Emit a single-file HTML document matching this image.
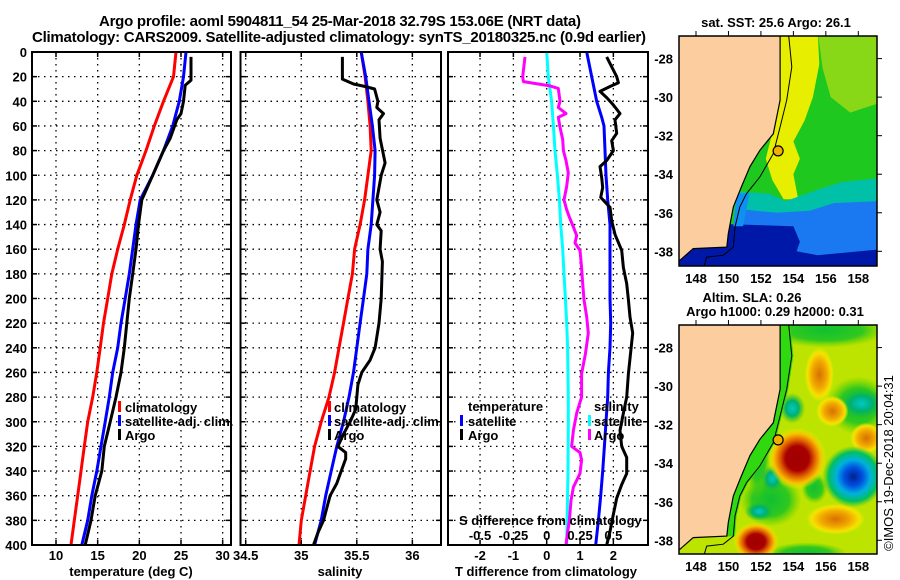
<!DOCTYPE html>
<html><head><meta charset="utf-8"><title>Argo profile</title>
<style>
html,body{margin:0;padding:0;background:#fff;}
svg{display:block;font-family:"Liberation Sans",Arial,sans-serif;font-weight:bold;}
</style></head>
<body>
<svg id="fig" width="900" height="580" viewBox="0 0 900 580" xmlns="http://www.w3.org/2000/svg">
<defs>
<clipPath id="clipTop"><rect x="679" y="36" width="198" height="230"/></clipPath>
<clipPath id="clipBot"><rect x="679" y="325" width="198" height="229"/></clipPath>
<radialGradient id="gRed"><stop offset="0" stop-color="#a00000"/><stop offset="0.4" stop-color="#a80000"/><stop offset="0.6" stop-color="#e06000"/><stop offset="0.8" stop-color="#f8c000"/><stop offset="1" stop-color="#f0f000" stop-opacity="0"/></radialGradient>
<radialGradient id="gOrange"><stop offset="0" stop-color="#d87000"/><stop offset="0.5" stop-color="#f0a800"/><stop offset="0.8" stop-color="#f8e000"/><stop offset="1" stop-color="#f0f000" stop-opacity="0"/></radialGradient>
<radialGradient id="gBlue"><stop offset="0" stop-color="#002090"/><stop offset="0.3" stop-color="#0050e0"/><stop offset="0.55" stop-color="#00b0e0"/><stop offset="0.8" stop-color="#00c060"/><stop offset="1" stop-color="#30c030" stop-opacity="0"/></radialGradient>
<radialGradient id="gTeal"><stop offset="0" stop-color="#00c8c8"/><stop offset="0.5" stop-color="#00b070"/><stop offset="1" stop-color="#20c020" stop-opacity="0"/></radialGradient>
<radialGradient id="gGreen"><stop offset="0" stop-color="#10c030"/><stop offset="0.6" stop-color="#30c820"/><stop offset="1" stop-color="#60d000" stop-opacity="0"/></radialGradient>
</defs>
<g id="titles">
<text x="340" y="26" text-anchor="middle" font-size="15" textLength="482">Argo profile: aoml 5904811_54 25-Mar-2018 32.79S 153.06E (NRT data)</text>
<text x="339" y="42" text-anchor="middle" font-size="15" textLength="614">Climatology: CARS2009. Satellite-adjusted climatology: synTS_20180325.nc (0.9d earlier)</text>
<text x="776" y="27" text-anchor="middle" font-size="13">sat. SST: 25.6 Argo: 26.1</text>
<text x="752" y="302" text-anchor="middle" font-size="13">Altim. SLA: 0.26</text>
<text x="775" y="316" text-anchor="middle" font-size="13">Argo h1000: 0.29 h2000: 0.31</text>
<text transform="translate(893,463) rotate(-90)" text-anchor="middle" font-size="13" font-weight="normal">©IMOS 19-Dec-2018 20:04:31</text>
</g>
<g id="panels"></g>
<g id="maps"></g>
</svg>
<script>
// ---------- profile data ----------
const climDepth = [0,20,40,60,80,100,120,140,160,180,200,220,240,260,280,300,320,340,360,380,400];
const climT = [24.4,24.1,22.9,21.8,20.8,19.7,18.9,18.2,17.4,16.7,16.2,15.7,15.3,14.9,14.4,13.8,13.4,13.0,12.6,12.2,11.8];
const satT = [25.6,25.3,24.8,24.0,22.9,21.6,20.1,19.6,19.2,18.8,18.3,17.8,17.4,16.8,16.4,15.9,15.4,14.9,14.3,13.8,13.1];
const argoTDepth = [4,23,27,40,50,55,70,80,100,120,140,160,180,200,220,240,260,280,300,320,340,360,380,400];
const argoT = [26.2,26.2,25.5,25.3,25.0,24.5,23.7,22.9,21.6,20.3,19.9,19.6,19.2,18.8,18.5,18.2,17.8,17.2,16.5,15.8,15.5,14.7,14.2,13.5];
const climS = [35.54,35.575,35.60,35.62,35.63,35.60,35.57,35.53,35.48,35.46,35.42,35.38,35.34,35.30,35.25,35.18,35.12,35.08,35.04,35.00,34.98];
const satS = [35.54,35.58,35.61,35.64,35.665,35.66,35.645,35.63,35.60,35.59,35.56,35.53,35.50,35.47,35.43,35.38,35.32,35.27,35.22,35.18,35.12];
const argoSDepth = [4,22,26,28,30,40,45,50,55,70,90,100,120,130,140,145,160,170,200,220,240,250,260,270,280,290,300,310,320,325,330,340,350,360,370,380,390,400];
const argoS = [35.37,35.37,35.47,35.575,35.66,35.69,35.68,35.74,35.70,35.71,35.755,35.72,35.68,35.71,35.68,35.72,35.71,35.73,35.72,35.70,35.665,35.62,35.545,35.51,35.50,35.49,35.44,35.38,35.33,35.40,35.40,35.36,35.32,35.26,35.23,35.20,35.15,35.11];
const satTdiffDepth = [0,20,40,53,60,80,100,120,140,160,180,200,220,240,260,280,300,320,340,360,380,400];
const satTdiff = [1.2,1.35,1.5,1.65,1.72,1.75,1.78,1.83,1.9,1.9,1.9,1.9,1.92,1.9,1.85,1.83,1.78,1.73,1.68,1.62,1.55,1.47];
const satSdiffDepth = [0,20,40,60,80,100,120,140,160,180,200,220,240,280,300,340,400];
const satSdiff = [0,0.012,0.037,0.05,0.062,0.08,0.095,0.105,0.12,0.13,0.14,0.15,0.157,0.162,0.162,0.16,0.15];
const argoTdiffDepth = [4,12,20,25,28,32,37,43,50,55,66,72,80,88,93,102,110,118,126,137,148,161,175,188,201,215,228,261,280,293,307,320,329,342,351,362,375,389,400];
const argoTdiff = [1.8,1.95,2.1,2.15,1.9,1.6,1.8,2.0,2.2,2.05,2.1,1.95,2.0,1.8,1.6,1.65,1.68,1.62,1.9,1.95,2.05,2.25,2.3,2.4,2.45,2.5,2.58,2.45,2.4,2.3,2.2,2.25,2.4,2.4,2.25,2.1,2.0,1.9,1.8];
const argoSdiffDepth = [4,20,24,27.5,29.5,40,45,50,53,61,71,80,88,98,109,120,128,134,142,149,155,161,175,188,201,215,228,245,261,280,293,307,320,325,331,342,353,364,380,391,400];
const argoSdiff = [-0.163,-0.18,-0.175,0.025,0.087,0.1,0.087,0.145,0.087,0.1,0.12,0.125,0.145,0.162,0.15,0.13,0.15,0.17,0.2,0.225,0.212,0.25,0.262,0.27,0.28,0.3,0.312,0.29,0.262,0.262,0.225,0.2,0.187,0.25,0.262,0.25,0.2,0.182,0.17,0.155,0.145];
const depthTicks = [0,20,40,60,80,100,120,140,160,180,200,220,240,260,280,300,320,340,360,380,400];
const tempTicks = [10,15,20,25,30];
const salTicks = [34.5,35,35.5,36];
const salTickLabels = ["34.5","35","35.5","36"];
const tdiffTicks = [-2,-1,0,1,2];
const sdiffTicks = [-0.5,-0.25,0,0.25,0.5];
const sdiffTickLabels = ["-0.5","-0.25","0","0.25","0.5"];
const mapLonTicks = [148,150,152,154,156,158];
const mapLatTicks = [-28,-30,-32,-34,-36,-38];

const NS = "http://www.w3.org/2000/svg";
function mk(tag, attrs, parent){const e=document.createElementNS(NS,tag);for(const k in attrs)e.setAttribute(k,attrs[k]);parent.appendChild(e);return e;}

const PT=52, PB=545;
const yD = d => PT + d*(PB-PT)/400;
const p1x = t => 56 + (t-10)*8.333;
const p2x = s => 245.7 + (s-34.5)*111.1;
const p3xT = t => 546.7 + t*33.33;
const p3xS = s => 546.7 + s*133.33;
const panels = document.getElementById('panels');

function line(parent, xs, ds, fx, color, name){
  const pts = xs.map((v,i)=>fx(v).toFixed(1)+','+yD(ds[i]).toFixed(1)).join(' ');
  const p = mk('polyline',{points:pts,fill:'none',stroke:color,'stroke-width':3,'stroke-linejoin':'round'},parent);
  
  
}

function panel(x0,x1,vticks,fx,name){
  const g = mk('g',{},panels);
  
  
  depthTicks.forEach(d=>{
    if(d===0||d===400)return;
    mk('line',{x1:x0,x2:x1,y1:yD(d),y2:yD(d),stroke:'#000','stroke-width':1.3,'stroke-dasharray':'1.5,4.5'},g);
    mk('line',{x1:x0,x2:x0+5,y1:yD(d),y2:yD(d),stroke:'#000','stroke-width':1.5},g);
    mk('line',{x1:x1-5,x2:x1,y1:yD(d),y2:yD(d),stroke:'#000','stroke-width':1.5},g);
  });
  vticks.forEach(v=>{
    const x=fx(v);
    mk('line',{x1:x,x2:x,y1:PT,y2:PB,stroke:'#000','stroke-width':1.3,'stroke-dasharray':'1.5,4.5'},g);
    mk('line',{x1:x,x2:x,y1:PB-5,y2:PB,stroke:'#000','stroke-width':1.5},g);
    mk('line',{x1:x,x2:x,y1:PT,y2:PT+5,stroke:'#000','stroke-width':1.5},g);
  });
  return g;
}
function frame(x0,x1,name){
  const r = mk('rect',{x:x0,y:PT,width:x1-x0,height:PB-PT,fill:'none',stroke:'#000','stroke-width':2},panels);
  
  
}
function txt(parent,x,y,s,anchor,size,name){
  const t = mk('text',{x:x,y:y,'text-anchor':anchor||'start','font-size':size||13},parent);
  t.textContent=s;
  
  
  return t;
}
function legendBar(parent,x,y,color,name){
  const r = mk('rect',{x:x,y:y-10,width:3,height:11,fill:color},parent);
  
  
}

depthTicks.forEach(d=>{ txt(panels,27,yD(d)+5,String(d),'end',13,'depth-tick-label'); });

// Panel 1: temperature
const g1 = panel(32,231,tempTicks,p1x,'temperature-panel');
line(g1, climT, climDepth, p1x, '#ff0000', 'climatology-temperature-line');
line(g1, satT, climDepth, p1x, '#0000ff', 'satellite-temperature-line');
line(g1, argoT, argoTDepth, p1x, '#000000', 'argo-temperature-line');
frame(32,231,'temperature-panel-frame');
tempTicks.forEach(v=>txt(panels,p1x(v),560,String(v),'middle',13,'temperature-tick-label'));
txt(panels,131,576,'temperature (deg C)','middle',13,'temperature-axis-title');
legendBar(g1,118,411,'#ff0000','legend-climatology-marker'); txt(g1,125,412,'climatology','start',13,'legend-climatology');
legendBar(g1,118,425,'#0000ff','legend-satellite-marker'); txt(g1,125,426,'satellite-adj. clim.','start',13,'legend-satellite-adj');
legendBar(g1,118,439,'#000000','legend-argo-marker'); txt(g1,125,440,'Argo','start',13,'legend-argo');

// Panel 2: salinity
const g2 = panel(240.5,441,salTicks,p2x,'salinity-panel');
line(g2, climS, climDepth, p2x, '#ff0000', 'climatology-salinity-line');
line(g2, satS, climDepth, p2x, '#0000ff', 'satellite-salinity-line');
line(g2, argoS, argoSDepth, p2x, '#000000', 'argo-salinity-line');
frame(240.5,441,'salinity-panel-frame');
salTicks.forEach((v,i)=>txt(panels,p2x(v),560,salTickLabels[i],'middle',13,'salinity-tick-label'));
txt(panels,340,576,'salinity','middle',13,'salinity-axis-title');
legendBar(g2,328,411,'#ff0000','legend2-climatology-marker'); txt(g2,334,412,'climatology','start',13,'legend2-climatology');
legendBar(g2,328,425,'#0000ff','legend2-satellite-marker'); txt(g2,334,426,'satellite-adj. clim.','start',13,'legend2-satellite-adj');
legendBar(g2,328,439,'#000000','legend2-argo-marker'); txt(g2,334,440,'Argo','start',13,'legend2-argo');

// Panel 3: differences
const g3 = panel(448,648,tdiffTicks,p3xT,'difference-panel');
line(g3, satSdiff, satSdiffDepth, p3xS, '#00ffff', 'satellite-salinity-diff-line');
line(g3, argoSdiff, argoSdiffDepth, p3xS, '#ff00ff', 'argo-salinity-diff-line');
line(g3, satTdiff, satTdiffDepth, p3xT, '#0000ff', 'satellite-temperature-diff-line');
line(g3, argoTdiff, argoTdiffDepth, p3xT, '#000000', 'argo-temperature-diff-line');
frame(448,648,'difference-panel-frame');
tdiffTicks.forEach(v=>txt(panels,p3xT(v),560,String(v),'middle',13,'tdiff-tick-label'));
txt(panels,546,576,'T difference from climatology','middle',13,'tdiff-axis-title');
txt(g3,459,525,'S difference from climatology','start',13,'sdiff-axis-title');
sdiffTicks.forEach((v,i)=>txt(g3,p3xS(v),540,sdiffTickLabels[i],'middle',13,'sdiff-tick-label'));
txt(g3,468,411,'temperature','start',13,'legend3-temperature-heading');
legendBar(g3,460,425,'#0000ff','legend3-t-satellite-marker'); txt(g3,468,426,'satellite','start',13,'legend3-t-satellite');
legendBar(g3,460,439,'#000000','legend3-t-argo-marker'); txt(g3,468,440,'Argo','start',13,'legend3-t-argo');
txt(g3,594,411,'salinity','start',13,'legend3-salinity-heading');
legendBar(g3,588,425,'#00ffff','legend3-s-satellite-marker'); txt(g3,594,426,'satellite','start',13,'legend3-s-satellite');
legendBar(g3,588,439,'#ff00ff','legend3-s-argo-marker'); txt(g3,594,440,'Argo','start',13,'legend3-s-argo');

// ---------- maps ----------
const maps = document.getElementById('maps');
const coast = [[153.18,-26.6],[153.18,-30.16],[152.76,-31.9],[151.94,-32.76],[151.33,-33.6],[150.8,-34.66],[150.3,-35.7],[149.99,-37.08],[149.9,-37.78],[147.83,-37.86],[147.0,-38.47],[146.5,-38.6]];
const shelf = [[153.69,-26.6],[153.9,-28.43],[153.59,-30.16],[153.18,-31.55],[152.76,-32.93],[151.94,-34.14],[151.12,-35.0],[150.7,-35.7],[150.4,-36.74],[150.3,-37.78],[149.68,-38.2],[148.66,-38.3],[148.45,-38.9]];
const argoLon = 153.06, argoLat = -32.79;

function drawMap(top, bottom, clipId, name){
  const g = mk('g',{'clip-path':'url(#'+clipId+')'},maps);
  
  
  const X = lon => 696 + (lon-148)*16.23;
  const Y = lat => top + 22.6 + (-28-lat)*19.27;
  const poly = pts => pts.map(p=>X(p[0]).toFixed(1)+','+Y(p[1]).toFixed(1)).join(' ');
  return {g,X,Y,poly,top,bottom};
}
function finishMap(m, name){
  const {g,X,Y,poly,top,bottom} = m;
  const land = [[146,-26],[153.18,-26],...coast,[146,-40]];
  const lp = mk('polygon',{points:poly(land),fill:'#fccd9e'},g);
  
  
  mk('polyline',{points:poly(coast),fill:'none',stroke:'#000','stroke-width':1.2},g);
  mk('polyline',{points:poly(shelf),fill:'none',stroke:'#000','stroke-width':1},g);
  const c = mk('circle',{cx:X(argoLon),cy:Y(argoLat),r:5,fill:'#f0b000',stroke:'#000','stroke-width':1.2},g);
  
  
  const fr = mk('rect',{x:679,y:top,width:198,height:bottom-top,fill:'none',stroke:'#000','stroke-width':1.5},maps);
  
  
  mapLatTicks.forEach(l=>{
    txt(maps,673,Y(l)+5,String(l),'end',13,name+'-lat-label');
    mk('line',{x1:877,x2:882,y1:Y(l),y2:Y(l),stroke:'#000','stroke-width':1},maps);
  });
  mapLonTicks.forEach(l=>{
    txt(maps,X(l),bottom+17,String(l),'middle',13,name+'-lon-label');
    mk('line',{x1:X(l),x2:X(l),y1:top-5,y2:top,stroke:'#000','stroke-width':1},maps);
  });
}

// SST map
const m1 = drawMap(36,266,'clipTop','sst-map');
(function(){
  const {g,poly} = m1;
  mk('rect',{x:679,y:36,width:198,height:230,fill:'#1ec81e'},g);
  mk('polygon',{points:poly([[155.5,-26.6],[159.3,-26.6],[159.3,-30.3],[157.5,-30.8],[156.3,-30],[155.8,-28.5]]),fill:'#88d818'},g);
  mk('polygon',{points:poly([[153,-26.6],[155.5,-26.6],[155.6,-28.3],[155.2,-30],[154.7,-31.2],[154.0,-32.3],[154.4,-33.2],[154.0,-34.0],[154.3,-35.3],[153.4,-35.3],[152.7,-34.3],[152.3,-33.2],[152.8,-31.5],[153,-29.5]]),fill:'#e8ee00'},g);
  mk('polygon',{points:poly([[150.5,-34.9],[152.5,-35.0],[153.5,-35.4],[155.5,-34.8],[157,-34.4],[159.3,-34.2],[159.3,-36.6],[150.3,-36.7]]),fill:'#00c0a8'},g);
  mk('polygon',{points:poly([[150.5,-35.8],[153,-36.0],[155,-35.9],[156.5,-35.5],[159.3,-35.4],[159.3,-39],[150,-39]]),fill:'#1a78f0'},g);
  mk('polygon',{points:poly([[146,-36.7],[150.2,-36.6],[154.0,-36.7],[154.4,-37.5],[154.2,-38.0],[155.5,-38.2],[159.3,-37.9],[159.3,-39],[146,-39]]),fill:'#0018a8'},g);
  mk('polygon',{points:poly([[150.5,-35.0],[151.3,-35.0],[150.9,-36.7],[150.3,-36.7]]),fill:'#1090f0'},g);
  finishMap(m1,'sst-map');
})();

// SLA map
const m2 = drawMap(325,554,'clipBot','sla-map');
(function(){
  const {g,X,Y,poly} = m2;
  mk('rect',{x:679,y:325,width:198,height:229,fill:'#bce400'},g);
  const blob=(lon,lat,rx,ry,grad,nm)=>{
    const e=mk('ellipse',{cx:X(lon),cy:Y(lat),rx:rx*16.23,ry:ry*19.27,fill:'url(#'+grad+')'},g);
    
    
  };
  blob(156.0,-27.1,3.8,0.9,'gGreen','sla-green-north');
  blob(158.0,-31.0,2.0,1.5,'gGreen','sla-green-east');
  blob(152.6,-35.9,1.9,1.4,'gGreen','sla-green-southwest');
  blob(154.8,-38.7,2.5,0.6,'gGreen','sla-green-south');
  blob(151.8,-33.6,0.8,2.2,'gGreen','sla-green-coast');
  blob(155.3,-35.3,0.8,0.8,'gGreen','sla-green-mid');
  blob(153.93,-31.15,0.8,0.8,'gTeal','sla-teal-1');
  blob(158.2,-30.9,1.4,0.8,'gTeal','sla-teal-2');
  blob(152.7,-34.8,0.7,0.7,'gTeal','sla-teal-3');
  blob(151.9,-36.5,0.9,0.5,'gTeal','sla-teal-4');
  blob(155.6,-29.4,0.9,1.4,'gOrange','sla-orange-1');
  blob(156.4,-31.3,1.0,0.8,'gOrange','sla-orange-2');
  blob(158.5,-32.7,1.0,0.8,'gOrange','sla-orange-3');
  blob(156.6,-36.9,1.8,0.8,'gOrange','sla-orange-4');
  blob(154.24,-33.75,1.8,1.6,'gRed','sla-high-eddy');
  blob(151.7,-38.07,1.4,1.0,'gRed','sla-high-south');
  blob(157.7,-34.7,1.9,1.6,'gBlue','sla-low-eddy');
  mk('polygon',{points:poly([...coast.slice(0,10),...shelf.slice().reverse().slice(3).map(p=>[p[0]+0.1,p[1]])]),fill:'#30d810'},g);
  finishMap(m2,'sla-map');
})();
</script>
</body></html>
